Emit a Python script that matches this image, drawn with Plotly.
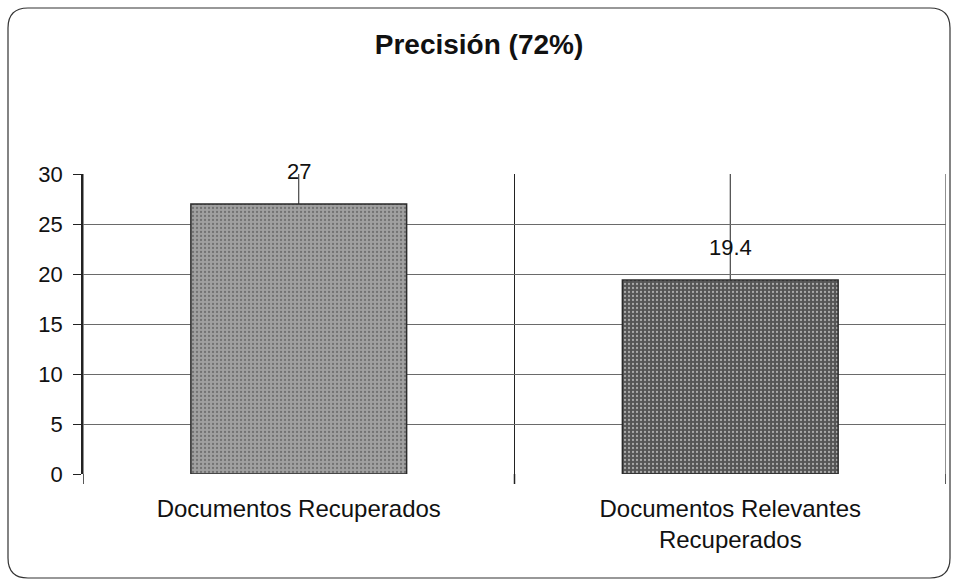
import plotly.graph_objects as go

# Chart data
categories = ["Documentos Recuperados", "Documentos Relevantes<br>Recuperados"]
values = [27, 19.4]
value_labels = ["27", "19.4"]
bar_colors = ["#a0a0a0", "#555555"]
dot_colors = ["#dadada", "#9a9a9a"]
y_ticks = [0, 5, 10, 15, 20, 25, 30]

FONT = "Liberation Sans, Arial"
W, H = 958, 586
L, R, T, B = 83, 12, 174, 112
pw, ph = W - L - R, H - T - B

fig = go.Figure()
fig.add_trace(go.Bar(
    x=categories,
    y=values,
    width=0.5,
    marker=dict(
        color=bar_colors,
        line=dict(color="#2a2a2a", width=1.5),
        pattern=dict(shape=".", fgcolor=dot_colors, size=4, solidity=0.25, fillmode="overlay"),
    ),
    hoverinfo="skip",
))

# value labels above each bar
for c, v, t in zip(categories, values, value_labels):
    fig.add_annotation(x=c, y=v, text=t, showarrow=False, yshift=33,
                       font=dict(family=FONT, size=22, color="#111"))

shapes = []
# vertical grid lines at category centres and boundaries
for xv in [-0.5, 0, 0.5, 1, 1.5]:
    shapes.append(dict(type="line", xref="x", yref="y", x0=xv, x1=xv, y0=0, y1=30,
                       line=dict(color="#222", width=1), layer="below"))
# tick marks below the baseline at category boundaries
for xv in [-0.5, 0.5, 1.5]:
    shapes.append(dict(type="line", xref="x", yref="paper", x0=xv, x1=xv, y0=0, y1=-10 / ph,
                       line=dict(color="#222", width=1.5)))

# rounded chart frame
x0p, x1p = (8 - L) / pw, (950 - L) / pw
y0p, y1p = (H - 578 - B) / ph, (H - 8 - B) / ph
rx, ry = 20 / pw, 20 / ph
path = (f"M {x0p + rx} {y1p} L {x1p - rx} {y1p} Q {x1p} {y1p} {x1p} {y1p - ry} "
        f"L {x1p} {y0p + ry} Q {x1p} {y0p} {x1p - rx} {y0p} "
        f"L {x0p + rx} {y0p} Q {x0p} {y0p} {x0p} {y0p + ry} "
        f"L {x0p} {y1p - ry} Q {x0p} {y1p} {x0p + rx} {y1p} Z")
shapes.append(dict(type="path", xref="paper", yref="paper", path=path,
                   line=dict(color="#333", width=1.2)))

fig.update_layout(
    width=W, height=H,
    margin=dict(l=L, r=R, t=T, b=B),
    paper_bgcolor="white", plot_bgcolor="white",
    showlegend=False,
    shapes=shapes,
    title=dict(text="<b>Precisión (72%)</b>", x=0.5, xanchor="center",
               y=1 - 44 / H, yanchor="middle",
               font=dict(family=FONT, size=28, color="#111")),
    xaxis=dict(
        type="category", range=[-0.5, 1.5], showgrid=False, zeroline=False,
        showline=False, ticks="",
        ticklabelstandoff=18,
        tickfont=dict(family=FONT, size=24, color="#111"),
    ),
    yaxis=dict(
        range=[0, 30], tickvals=y_ticks, showgrid=True, gridcolor="#6a6a6a", gridwidth=1,
        zeroline=False, showline=True, linecolor="#222", linewidth=1.5,
        ticks="outside", ticklen=8, tickcolor="#222", tickwidth=1,
        ticklabelstandoff=6,
        tickfont=dict(family=FONT, size=22, color="#111"),
    ),
    bargap=0.5,
)

fig.write_html("out.html")
